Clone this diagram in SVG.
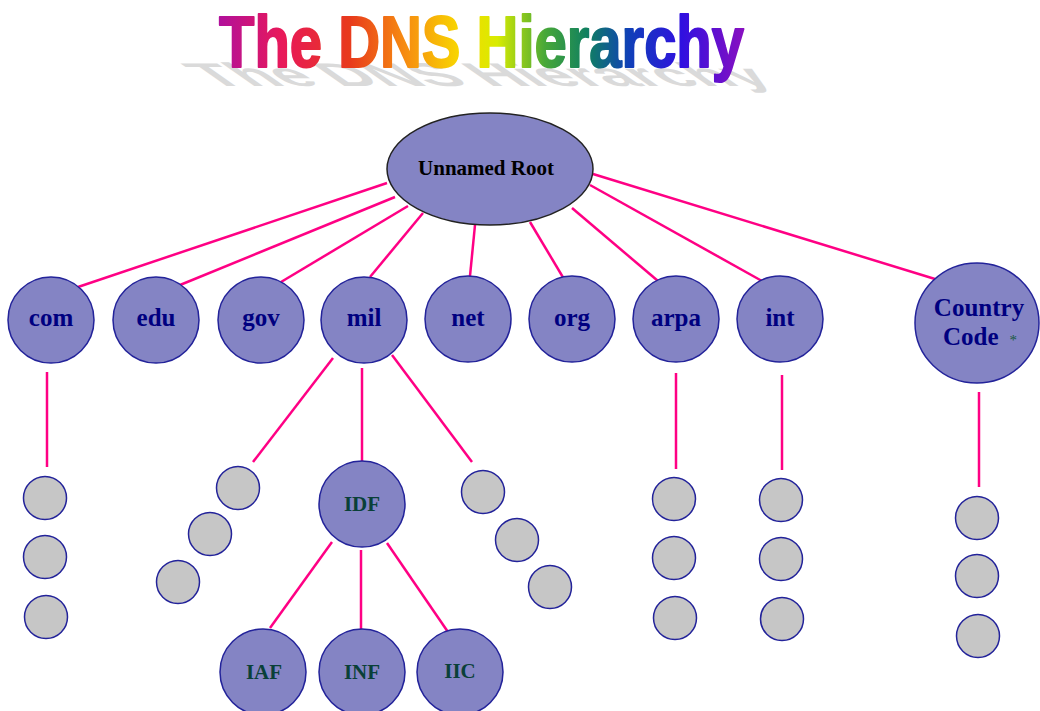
<svg xmlns="http://www.w3.org/2000/svg" width="1040" height="711" viewBox="0 0 1040 711">
<defs>
<linearGradient id="rainbow" gradientUnits="userSpaceOnUse" x1="218" y1="0" x2="745" y2="0">
<stop offset="0" stop-color="#b0109c"/>
<stop offset="0.12" stop-color="#e8185a"/>
<stop offset="0.25" stop-color="#e83a1c"/>
<stop offset="0.36" stop-color="#f79010"/>
<stop offset="0.46" stop-color="#f8d800"/>
<stop offset="0.53" stop-color="#d8ec00"/>
<stop offset="0.62" stop-color="#48a838"/>
<stop offset="0.70" stop-color="#108060"/>
<stop offset="0.78" stop-color="#1040b8"/>
<stop offset="0.88" stop-color="#3010e0"/>
<stop offset="1" stop-color="#8a10c0"/>
</linearGradient>
<style>
.title{font-family:"Liberation Sans",Arial,sans-serif;font-weight:bold;font-size:73px}
.lvl1{fill:#8484c4;stroke:#23239a;stroke-width:1.5}
.leaf{fill:#c6c6c6;stroke:#23239a;stroke-width:1.5}
.conn line{stroke:#ff0084;stroke-width:2.5}
.lbl{font-family:"Liberation Serif","Times New Roman",serif;font-weight:bold;font-size:25px;fill:#000080;text-anchor:middle}
.lbl2{font-family:"Liberation Serif","Times New Roman",serif;font-weight:bold;font-size:21px;fill:#0a4038;text-anchor:middle}
.root{font-family:"Liberation Serif","Times New Roman",serif;font-weight:bold;font-size:21px;fill:#000000;text-anchor:middle}
</style>
</defs>
<rect width="1040" height="711" fill="#ffffff"/>
<g id="title">
<text class="title" fill="#d2d2d2" opacity="0.8" x="0" y="0" textLength="565" lengthAdjust="spacingAndGlyphs" transform="translate(212,86) skewX(55) scale(1,0.45)">The DNS Hierarchy</text>
<text class="title" fill="url(#rainbow)" stroke="url(#rainbow)" stroke-width="2" stroke-linejoin="round" x="219" y="67" textLength="525" lengthAdjust="spacingAndGlyphs">The DNS Hierarchy</text>
</g>
<g class="conn" id="connectors">
<line x1="387" y1="183" x2="78" y2="287"/>
<line x1="395" y1="197" x2="180" y2="285"/>
<line x1="408" y1="206" x2="281" y2="282"/>
<line x1="423" y1="213" x2="370" y2="277"/>
<line x1="475" y1="225" x2="470" y2="276"/>
<line x1="530" y1="222" x2="564" y2="279"/>
<line x1="572" y1="208" x2="658" y2="281"/>
<line x1="590" y1="185" x2="762" y2="281"/>
<line x1="593" y1="174" x2="935" y2="279"/>
<line x1="47" y1="372" x2="47" y2="467"/>
<line x1="676" y1="373" x2="676" y2="469"/>
<line x1="782" y1="375" x2="782" y2="470"/>
<line x1="979" y1="392" x2="979" y2="487"/>
<line x1="333" y1="358" x2="253" y2="462"/>
<line x1="362" y1="368" x2="362" y2="461"/>
<line x1="392" y1="355" x2="472" y2="462"/>
<line x1="332" y1="542" x2="270" y2="628"/>
<line x1="361" y1="550" x2="361" y2="630"/>
<line x1="387" y1="543" x2="448" y2="632"/>
</g>
<g id="root"><ellipse cx="490" cy="169" rx="103" ry="56" fill="#8484c4" stroke="#222222" stroke-width="1.5"/><text class="root" x="486" y="175">Unnamed Root</text></g>
<g id="com"><circle class="lvl1" cx="51" cy="320" r="43"/><text class="lbl" x="51" y="326">com</text></g>
<g id="edu"><circle class="lvl1" cx="156" cy="320" r="43"/><text class="lbl" x="156" y="326">edu</text></g>
<g id="gov"><circle class="lvl1" cx="261" cy="320" r="43"/><text class="lbl" x="261" y="326">gov</text></g>
<g id="mil"><circle class="lvl1" cx="364" cy="320" r="43"/><text class="lbl" x="364" y="326">mil</text></g>
<g id="net"><circle class="lvl1" cx="468" cy="319" r="43"/><text class="lbl" x="468" y="326">net</text></g>
<g id="org"><circle class="lvl1" cx="572" cy="319" r="43"/><text class="lbl" x="572" y="326">org</text></g>
<g id="arpa"><circle class="lvl1" cx="676" cy="319" r="43"/><text class="lbl" x="676" y="326">arpa</text></g>
<g id="int"><circle class="lvl1" cx="780" cy="319" r="43"/><text class="lbl" x="780" y="326">int</text></g>
<g id="country"><ellipse class="lvl1" cx="977" cy="323" rx="62" ry="60"/><text class="lbl" x="979" y="316">Country</text><text class="lbl" x="943" y="345" style="text-anchor:start">Code<tspan dx="11" style="font-size:15px;fill:#1a5a40;font-weight:normal">*</tspan></text></g>
<g id="com-leaves"><circle class="leaf" cx="45" cy="498" r="21.5"/><circle class="leaf" cx="45" cy="557" r="21.5"/><circle class="leaf" cx="46" cy="617" r="21.5"/></g>
<g id="arpa-leaves"><circle class="leaf" cx="674" cy="499" r="21.5"/><circle class="leaf" cx="674" cy="558" r="21.5"/><circle class="leaf" cx="675" cy="618" r="21.5"/></g>
<g id="int-leaves"><circle class="leaf" cx="781" cy="500" r="21.5"/><circle class="leaf" cx="781" cy="559" r="21.5"/><circle class="leaf" cx="782" cy="619" r="21.5"/></g>
<g id="country-leaves"><circle class="leaf" cx="977" cy="518" r="21.5"/><circle class="leaf" cx="977" cy="576" r="21.5"/><circle class="leaf" cx="978" cy="636" r="21.5"/></g>
<g id="mil-left-leaves"><circle class="leaf" cx="238" cy="488" r="21.5"/><circle class="leaf" cx="210" cy="534" r="21.5"/><circle class="leaf" cx="178" cy="582" r="21.5"/></g>
<g id="mil-right-leaves"><circle class="leaf" cx="483" cy="492" r="21.5"/><circle class="leaf" cx="517" cy="540" r="21.5"/><circle class="leaf" cx="550" cy="587" r="21.5"/></g>
<g id="IDF"><circle class="lvl1" cx="362" cy="504" r="43"/><text class="lbl2" x="362" y="511">IDF</text></g>
<g id="IAF"><circle class="lvl1" cx="263" cy="672" r="43"/><text class="lbl2" x="264" y="679">IAF</text></g>
<g id="INF"><circle class="lvl1" cx="362" cy="672" r="43"/><text class="lbl2" x="362" y="679">INF</text></g>
<g id="IIC"><circle class="lvl1" cx="460" cy="672" r="43"/><text class="lbl2" x="460" y="678">IIC</text></g>
</svg>
